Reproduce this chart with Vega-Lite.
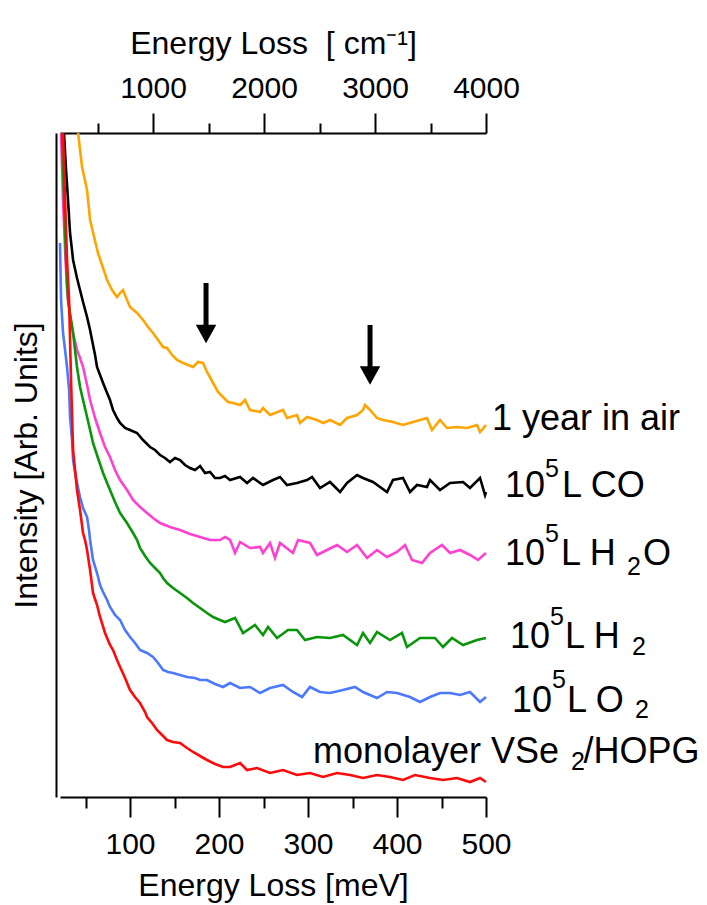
{
  "$schema": "https://vega.github.io/schema/vega-lite/v6.json",
  "width": 426,
  "height": 664,
  "autosize": "none",
  "padding": {"left": 60, "top": 133, "right": 221, "bottom": 108},
  "background": "white",
  "view": {"stroke": null},
  "config": {
    "font": "Liberation Sans",
    "axis": {
      "domainColor": "black", "domainWidth": 2, "tickColor": "black", "tickWidth": 2,
      "labelColor": "black", "titleColor": "black", "labelFont": "Liberation Sans", "titleFont": "Liberation Sans",
      "labelFontSize": 30, "titleFontSize": 32, "titleFontWeight": "normal", "grid": false,
      "labelFlush": false, "labelOverlap": false, "labelBound": false
    }
  },
  "datasets": {
    "curves": [
      {"s":"air","x":41.6,"y":664},{"s":"air","x":43.8,"y":647},{"s":"air","x":46.1,"y":630},{"s":"air","x":51.7,"y":607},{"s":"air","x":55.1,"y":577},{"s":"air","x":59.6,"y":560},{"s":"air","x":64.0,"y":544},{"s":"air","x":69.7,"y":529},{"s":"air","x":74.2,"y":517},{"s":"air","x":79.8,"y":507},{"s":"air","x":85.4,"y":500},{"s":"air","x":88.8,"y":504},{"s":"air","x":92.1,"y":507},{"s":"air","x":96.6,"y":497},{"s":"air","x":100.0,"y":490},{"s":"air","x":107.9,"y":484},{"s":"air","x":114.6,"y":477},{"s":"air","x":120.2,"y":470},{"s":"air","x":125.8,"y":464},{"s":"air","x":131.5,"y":457},{"s":"air","x":137.1,"y":450},{"s":"air","x":141.6,"y":449},{"s":"air","x":147.2,"y":442},{"s":"air","x":152.8,"y":437},{"s":"air","x":159.6,"y":434},{"s":"air","x":165.2,"y":432},{"s":"air","x":170.8,"y":430},{"s":"air","x":176.4,"y":435},{"s":"air","x":182.0,"y":434},{"s":"air","x":186.5,"y":425},{"s":"air","x":193.3,"y":414},{"s":"air","x":198.9,"y":405},{"s":"air","x":204.5,"y":400},{"s":"air","x":210.1,"y":395},{"s":"air","x":215.7,"y":394},{"s":"air","x":223.6,"y":392},{"s":"air","x":229.2,"y":397},{"s":"air","x":234.8,"y":387},{"s":"air","x":246.1,"y":385},{"s":"air","x":249.4,"y":389},{"s":"air","x":257.3,"y":382},{"s":"air","x":271.9,"y":387},{"s":"air","x":276.4,"y":379},{"s":"air","x":287.6,"y":382},{"s":"air","x":291.0,"y":374},{"s":"air","x":298.9,"y":380},{"s":"air","x":310.1,"y":377},{"s":"air","x":316.9,"y":374},{"s":"air","x":324.7,"y":377},{"s":"air","x":336.0,"y":372},{"s":"air","x":343.8,"y":379},{"s":"air","x":355.1,"y":382},{"s":"air","x":361.8,"y":387},{"s":"air","x":364.0,"y":392},{"s":"air","x":369.7,"y":387},{"s":"air","x":377.5,"y":379},{"s":"air","x":384.3,"y":377},{"s":"air","x":395.5,"y":375},{"s":"air","x":406.7,"y":372},{"s":"air","x":418.0,"y":375},{"s":"air","x":433.7,"y":379},{"s":"air","x":439.3,"y":367},{"s":"air","x":448.3,"y":377},{"s":"air","x":456.2,"y":369},{"s":"air","x":467.4,"y":370},{"s":"air","x":478.7,"y":369},{"s":"air","x":489.9,"y":372},{"s":"air","x":493.3,"y":365},{"s":"air","x":500,"y":372},

      {"s":"co","x":25.8,"y":664},{"s":"co","x":28.1,"y":627},{"s":"co","x":30.3,"y":597},{"s":"co","x":32.6,"y":564},{"s":"co","x":36.0,"y":537},{"s":"co","x":40.4,"y":519},{"s":"co","x":43.8,"y":507},{"s":"co","x":47.2,"y":495},{"s":"co","x":51.7,"y":480},{"s":"co","x":55.1,"y":467},{"s":"co","x":57.3,"y":457},{"s":"co","x":60.7,"y":442},{"s":"co","x":62.9,"y":430},{"s":"co","x":66.3,"y":422},{"s":"co","x":69.7,"y":414},{"s":"co","x":74.2,"y":404},{"s":"co","x":77.5,"y":397},{"s":"co","x":80.9,"y":387},{"s":"co","x":85.4,"y":379},{"s":"co","x":88.8,"y":374},{"s":"co","x":94.4,"y":369},{"s":"co","x":100.0,"y":367},{"s":"co","x":107.9,"y":364},{"s":"co","x":114.6,"y":357},{"s":"co","x":122.5,"y":350},{"s":"co","x":128.1,"y":347},{"s":"co","x":133.7,"y":342},{"s":"co","x":139.3,"y":339},{"s":"co","x":144.9,"y":335},{"s":"co","x":150.6,"y":339},{"s":"co","x":156.2,"y":337},{"s":"co","x":161.8,"y":332},{"s":"co","x":167.4,"y":329},{"s":"co","x":173.0,"y":327},{"s":"co","x":178.7,"y":331},{"s":"co","x":184.3,"y":324},{"s":"co","x":189.9,"y":325},{"s":"co","x":195.5,"y":319},{"s":"co","x":201.1,"y":319},{"s":"co","x":206.7,"y":321},{"s":"co","x":212.4,"y":317},{"s":"co","x":223.6,"y":320},{"s":"co","x":231.5,"y":314},{"s":"co","x":238.2,"y":319},{"s":"co","x":249.4,"y":312},{"s":"co","x":260.7,"y":317},{"s":"co","x":268.5,"y":320},{"s":"co","x":276.4,"y":312},{"s":"co","x":287.6,"y":314},{"s":"co","x":298.9,"y":317},{"s":"co","x":304.5,"y":320},{"s":"co","x":313.5,"y":309},{"s":"co","x":324.7,"y":315},{"s":"co","x":336.0,"y":305},{"s":"co","x":343.8,"y":314},{"s":"co","x":355.1,"y":322},{"s":"co","x":361.8,"y":319},{"s":"co","x":373.0,"y":315},{"s":"co","x":388.8,"y":305},{"s":"co","x":395.5,"y":317},{"s":"co","x":406.7,"y":319},{"s":"co","x":414.6,"y":305},{"s":"co","x":422.5,"y":312},{"s":"co","x":433.7,"y":310},{"s":"co","x":437.1,"y":317},{"s":"co","x":448.3,"y":307},{"s":"co","x":459.6,"y":314},{"s":"co","x":474.2,"y":315},{"s":"co","x":482.0,"y":309},{"s":"co","x":493.3,"y":319},{"s":"co","x":498.9,"y":302},{"s":"co","x":500,"y":305},

      {"s":"h2o","x":22.5,"y":664},{"s":"h2o","x":24.7,"y":597},{"s":"h2o","x":27.0,"y":547},{"s":"h2o","x":29.2,"y":507},{"s":"h2o","x":32.6,"y":480},{"s":"h2o","x":36.0,"y":464},{"s":"h2o","x":40.4,"y":447},{"s":"h2o","x":43.8,"y":439},{"s":"h2o","x":47.2,"y":430},{"s":"h2o","x":51.7,"y":412},{"s":"h2o","x":55.1,"y":397},{"s":"h2o","x":60.7,"y":379},{"s":"h2o","x":66.3,"y":364},{"s":"h2o","x":71.9,"y":350},{"s":"h2o","x":77.5,"y":340},{"s":"h2o","x":83.1,"y":327},{"s":"h2o","x":88.8,"y":317},{"s":"h2o","x":96.6,"y":307},{"s":"h2o","x":103.4,"y":297},{"s":"h2o","x":111.2,"y":290},{"s":"h2o","x":119.1,"y":284},{"s":"h2o","x":125.8,"y":279},{"s":"h2o","x":133.7,"y":274},{"s":"h2o","x":144.9,"y":270},{"s":"h2o","x":156.2,"y":267},{"s":"h2o","x":167.4,"y":263},{"s":"h2o","x":178.7,"y":260},{"s":"h2o","x":189.9,"y":257},{"s":"h2o","x":201.1,"y":257},{"s":"h2o","x":206.7,"y":260},{"s":"h2o","x":212.4,"y":257},{"s":"h2o","x":218.0,"y":244},{"s":"h2o","x":223.6,"y":255},{"s":"h2o","x":234.8,"y":249},{"s":"h2o","x":246.1,"y":250},{"s":"h2o","x":249.4,"y":244},{"s":"h2o","x":257.3,"y":254},{"s":"h2o","x":262.9,"y":239},{"s":"h2o","x":268.5,"y":254},{"s":"h2o","x":283.1,"y":244},{"s":"h2o","x":288.8,"y":257},{"s":"h2o","x":302.2,"y":254},{"s":"h2o","x":310.1,"y":242},{"s":"h2o","x":321.3,"y":247},{"s":"h2o","x":332.6,"y":252},{"s":"h2o","x":343.8,"y":245},{"s":"h2o","x":355.1,"y":252},{"s":"h2o","x":366.3,"y":239},{"s":"h2o","x":377.5,"y":247},{"s":"h2o","x":388.8,"y":240},{"s":"h2o","x":400.0,"y":245},{"s":"h2o","x":409.0,"y":252},{"s":"h2o","x":416.9,"y":237},{"s":"h2o","x":428.1,"y":234},{"s":"h2o","x":437.1,"y":244},{"s":"h2o","x":450.6,"y":252},{"s":"h2o","x":459.6,"y":244},{"s":"h2o","x":470.8,"y":247},{"s":"h2o","x":482.0,"y":242},{"s":"h2o","x":491.0,"y":237},{"s":"h2o","x":500,"y":244},

      {"s":"h2","x":23.6,"y":664},{"s":"h2","x":25.8,"y":597},{"s":"h2","x":28.1,"y":537},{"s":"h2","x":30.3,"y":497},{"s":"h2","x":36.0,"y":464},{"s":"h2","x":40.4,"y":430},{"s":"h2","x":43.8,"y":410},{"s":"h2","x":47.2,"y":397},{"s":"h2","x":51.7,"y":380},{"s":"h2","x":55.1,"y":367},{"s":"h2","x":58.4,"y":354},{"s":"h2","x":64.0,"y":339},{"s":"h2","x":69.7,"y":324},{"s":"h2","x":74.2,"y":314},{"s":"h2","x":77.5,"y":307},{"s":"h2","x":83.1,"y":295},{"s":"h2","x":88.8,"y":284},{"s":"h2","x":96.6,"y":274},{"s":"h2","x":103.4,"y":264},{"s":"h2","x":107.9,"y":257},{"s":"h2","x":111.2,"y":249},{"s":"h2","x":116.9,"y":241},{"s":"h2","x":122.5,"y":234},{"s":"h2","x":128.1,"y":229},{"s":"h2","x":133.7,"y":224},{"s":"h2","x":137.1,"y":219},{"s":"h2","x":141.6,"y":214},{"s":"h2","x":148.3,"y":209},{"s":"h2","x":156.2,"y":204},{"s":"h2","x":164.0,"y":199},{"s":"h2","x":170.8,"y":194},{"s":"h2","x":178.7,"y":189},{"s":"h2","x":186.5,"y":184},{"s":"h2","x":193.3,"y":180},{"s":"h2","x":201.1,"y":177},{"s":"h2","x":206.7,"y":175},{"s":"h2","x":212.4,"y":177},{"s":"h2","x":218.0,"y":179},{"s":"h2","x":227.0,"y":164},{"s":"h2","x":240.4,"y":172},{"s":"h2","x":249.4,"y":162},{"s":"h2","x":255.1,"y":170},{"s":"h2","x":265.2,"y":159},{"s":"h2","x":277.5,"y":167},{"s":"h2","x":287.6,"y":167},{"s":"h2","x":296.6,"y":157},{"s":"h2","x":310.1,"y":160},{"s":"h2","x":324.7,"y":159},{"s":"h2","x":339.3,"y":162},{"s":"h2","x":355.1,"y":152},{"s":"h2","x":361.8,"y":164},{"s":"h2","x":369.7,"y":154},{"s":"h2","x":377.5,"y":165},{"s":"h2","x":392.1,"y":157},{"s":"h2","x":405.6,"y":164},{"s":"h2","x":411.2,"y":150},{"s":"h2","x":425.8,"y":159},{"s":"h2","x":442.7,"y":159},{"s":"h2","x":451.7,"y":150},{"s":"h2","x":461.8,"y":159},{"s":"h2","x":474.2,"y":152},{"s":"h2","x":489.9,"y":157},{"s":"h2","x":500,"y":159},

      {"s":"o2","x":21.3,"y":554},{"s":"o2","x":22.5,"y":497},{"s":"o2","x":24.7,"y":464},{"s":"o2","x":27.0,"y":447},{"s":"o2","x":29.2,"y":430},{"s":"o2","x":31.5,"y":407},{"s":"o2","x":32.6,"y":380},{"s":"o2","x":34.8,"y":357},{"s":"o2","x":36.0,"y":337},{"s":"o2","x":39.3,"y":319},{"s":"o2","x":43.8,"y":300},{"s":"o2","x":47.2,"y":289},{"s":"o2","x":51.7,"y":280},{"s":"o2","x":53.9,"y":267},{"s":"o2","x":55.1,"y":257},{"s":"o2","x":58.4,"y":237},{"s":"o2","x":62.9,"y":224},{"s":"o2","x":66.3,"y":212},{"s":"o2","x":69.7,"y":205},{"s":"o2","x":74.2,"y":197},{"s":"o2","x":77.5,"y":190},{"s":"o2","x":83.1,"y":182},{"s":"o2","x":88.8,"y":177},{"s":"o2","x":94.4,"y":167},{"s":"o2","x":100.0,"y":160},{"s":"o2","x":105.6,"y":154},{"s":"o2","x":111.2,"y":147},{"s":"o2","x":119.1,"y":144},{"s":"o2","x":125.8,"y":140},{"s":"o2","x":131.5,"y":134},{"s":"o2","x":137.1,"y":127},{"s":"o2","x":142.7,"y":125},{"s":"o2","x":148.3,"y":124},{"s":"o2","x":156.2,"y":122},{"s":"o2","x":164.0,"y":120},{"s":"o2","x":173.0,"y":119},{"s":"o2","x":178.7,"y":117},{"s":"o2","x":186.5,"y":117},{"s":"o2","x":195.5,"y":113},{"s":"o2","x":204.5,"y":110},{"s":"o2","x":212.4,"y":114},{"s":"o2","x":223.6,"y":109},{"s":"o2","x":234.8,"y":110},{"s":"o2","x":246.1,"y":104},{"s":"o2","x":257.3,"y":109},{"s":"o2","x":271.9,"y":112},{"s":"o2","x":283.1,"y":105},{"s":"o2","x":293.3,"y":100},{"s":"o2","x":302.2,"y":110},{"s":"o2","x":313.5,"y":105},{"s":"o2","x":324.7,"y":104},{"s":"o2","x":339.3,"y":107},{"s":"o2","x":352.8,"y":110},{"s":"o2","x":361.8,"y":105},{"s":"o2","x":377.5,"y":99},{"s":"o2","x":388.8,"y":105},{"s":"o2","x":400.0,"y":104},{"s":"o2","x":414.6,"y":100},{"s":"o2","x":425.8,"y":95},{"s":"o2","x":437.1,"y":100},{"s":"o2","x":448.3,"y":104},{"s":"o2","x":459.6,"y":104},{"s":"o2","x":470.8,"y":102},{"s":"o2","x":482.0,"y":105},{"s":"o2","x":493.3,"y":95},{"s":"o2","x":500,"y":100},

      {"s":"mono","x":24.7,"y":664},{"s":"mono","x":27.0,"y":597},{"s":"mono","x":29.2,"y":537},{"s":"mono","x":31.5,"y":497},{"s":"mono","x":33.7,"y":417},{"s":"mono","x":36.0,"y":347},{"s":"mono","x":38.2,"y":327},{"s":"mono","x":40.4,"y":307},{"s":"mono","x":43.8,"y":287},{"s":"mono","x":47.2,"y":264},{"s":"mono","x":49.4,"y":257},{"s":"mono","x":51.7,"y":247},{"s":"mono","x":55.1,"y":227},{"s":"mono","x":58.4,"y":204},{"s":"mono","x":62.9,"y":192},{"s":"mono","x":66.3,"y":180},{"s":"mono","x":71.9,"y":164},{"s":"mono","x":77.5,"y":152},{"s":"mono","x":80.9,"y":147},{"s":"mono","x":85.4,"y":137},{"s":"mono","x":88.8,"y":130},{"s":"mono","x":94.4,"y":119},{"s":"mono","x":100.0,"y":107},{"s":"mono","x":105.6,"y":100},{"s":"mono","x":111.2,"y":94},{"s":"mono","x":116.9,"y":85},{"s":"mono","x":119.1,"y":80},{"s":"mono","x":124.7,"y":74},{"s":"mono","x":130.3,"y":67},{"s":"mono","x":136.0,"y":62},{"s":"mono","x":141.6,"y":57},{"s":"mono","x":148.3,"y":55},{"s":"mono","x":156.2,"y":54},{"s":"mono","x":164.0,"y":49},{"s":"mono","x":170.8,"y":45},{"s":"mono","x":178.7,"y":41},{"s":"mono","x":186.5,"y":37},{"s":"mono","x":195.5,"y":33},{"s":"mono","x":204.5,"y":30},{"s":"mono","x":212.4,"y":30},{"s":"mono","x":223.6,"y":34},{"s":"mono","x":231.5,"y":27},{"s":"mono","x":242.7,"y":29},{"s":"mono","x":257.3,"y":24},{"s":"mono","x":271.9,"y":27},{"s":"mono","x":287.6,"y":22},{"s":"mono","x":302.2,"y":24},{"s":"mono","x":316.9,"y":20},{"s":"mono","x":332.6,"y":24},{"s":"mono","x":347.2,"y":22},{"s":"mono","x":361.8,"y":19},{"s":"mono","x":377.5,"y":22},{"s":"mono","x":392.1,"y":20},{"s":"mono","x":406.7,"y":17},{"s":"mono","x":420.2,"y":22},{"s":"mono","x":437.1,"y":19},{"s":"mono","x":451.7,"y":17},{"s":"mono","x":467.4,"y":19},{"s":"mono","x":482.0,"y":15},{"s":"mono","x":493.3,"y":19},{"s":"mono","x":500,"y":15}
    ],
    "arrows": [
      {"x": 185.4, "top": 514, "base": 466, "head": 463},
      {"x": 369.7, "top": 472, "base": 424, "head": 421.5}
    ],
    "labels": [
      {"t": "1 year in air", "x": 506.7, "y": 367},
      {"t": "10", "x": 521.3, "y": 300},
      {"t": "L CO", "x": 585.4, "y": 300},
      {"t": "10", "x": 521.3, "y": 232},
      {"t": "L H", "x": 584.3, "y": 232},
      {"t": "O", "x": 676.4, "y": 232},
      {"t": "10", "x": 527.0, "y": 149},
      {"t": "L H", "x": 588.8, "y": 149},
      {"t": "10", "x": 529.2, "y": 85},
      {"t": "L O", "x": 591.0, "y": 85},
      {"t": "monolayer VSe", "x": 305.6, "y": 34},
      {"t": "/HOPG", "x": 609.6, "y": 34}
    ],
    "small": [
      {"t": "5", "x": 566.3, "y": 320},
      {"t": "5", "x": 566.3, "y": 255},
      {"t": "2", "x": 658.4, "y": 222},
      {"t": "5", "x": 571.9, "y": 172},
      {"t": "2", "x": 664.0, "y": 142},
      {"t": "5", "x": 574.2, "y": 109},
      {"t": "2", "x": 667.4, "y": 79},
      {"t": "2", "x": 595.5, "y": 27}
    ],
    "top": [{"cm": 162}, {"cm": 4000}]
  },
  "layer": [
    {
      "layer": [
        {
          "data": {"name": "curves"},
          "mark": {"type": "line", "strokeWidth": 2.6},
          "encoding": {
            "x": {
              "field": "x", "type": "quantitative", "title": "Energy Loss [meV]",
              "scale": {"domain": [21.3, 500], "nice": false, "zero": false},
              "axis": {
                "orient": "bottom", "values": [50,100,150,200,250,300,350,400,450,500], "format": "d",
                "labelExpr": "datum.value % 100 === 0 ? datum.label : ''",
                "tickSize": {"condition": {"test": "datum.value % 100 === 0", "value": 20}, "value": 11},
                "labelPadding": 12, "titlePadding": 11
              }
            },
            "y": {
              "field": "y", "type": "quantitative", "title": "Intensity [Arb. Units]",
              "scale": {"domain": [0, 664], "nice": false, "zero": false},
              "axis": {"ticks": false, "labels": false, "offset": 4, "titlePadding": 13}
            },
            "color": {
              "field": "s", "type": "nominal", "legend": null,
              "scale": {"domain": ["air","co","h2o","h2","o2","mono"], "range": ["#FFA500","#000000","#FF40D0","#0A960A","#4A78FF","#FF0A0A"]}
            }
          }
        },
        {
          "data": {"name": "arrows"},
          "mark": {"type": "rule", "strokeWidth": 5, "color": "black"},
          "encoding": {
            "x": {"field": "x", "type": "quantitative", "title": "Energy Loss [meV]"},
            "y": {"field": "top", "type": "quantitative", "title": "Intensity [Arb. Units]"},
            "y2": {"field": "base"}
          }
        },
        {
          "data": {"name": "arrows"},
          "mark": {"type": "point", "shape": "M-1,-0.9L1,-0.9L0,0.9Z", "filled": true, "color": "black", "size": 420, "opacity": 1, "strokeWidth": 0},
          "encoding": {
            "x": {"field": "x", "type": "quantitative", "title": "Energy Loss [meV]"},
            "y": {"field": "head", "type": "quantitative", "title": "Intensity [Arb. Units]"}
          }
        },
        {
          "data": {"name": "labels"},
          "mark": {"type": "text", "align": "left", "baseline": "alphabetic", "fontSize": 36, "font": "Liberation Sans", "color": "black"},
          "encoding": {
            "x": {"field": "x", "type": "quantitative", "title": "Energy Loss [meV]"},
            "y": {"field": "y", "type": "quantitative", "title": "Intensity [Arb. Units]"},
            "text": {"field": "t"}
          }
        },
        {
          "data": {"name": "small"},
          "mark": {"type": "text", "align": "left", "baseline": "alphabetic", "fontSize": 25, "font": "Liberation Sans", "color": "black"},
          "encoding": {
            "x": {"field": "x", "type": "quantitative", "title": "Energy Loss [meV]"},
            "y": {"field": "y", "type": "quantitative", "title": "Intensity [Arb. Units]"},
            "text": {"field": "t"}
          }
        }
      ]
    },
    {
      "data": {"name": "top"},
      "mark": {"type": "point", "opacity": 0},
      "encoding": {
        "x": {
          "field": "cm", "type": "quantitative", "title": "Energy Loss\u00a0 [ cm⁻¹]",
          "scale": {"domain": [162, 4000], "nice": false, "zero": false},
          "axis": {
            "orient": "top", "values": [500,1000,1500,2000,2500,3000,3500,4000], "format": "d",
            "labelExpr": "datum.value % 1000 === 0 ? datum.label : ''",
            "tickSize": {"condition": {"test": "datum.value % 1000 === 0", "value": 20}, "value": 10},
            "labelPadding": 10, "titlePadding": 13
          }
        }
      }
    }
  ],
  "resolve": {"scale": {"x": "independent"}}
}
